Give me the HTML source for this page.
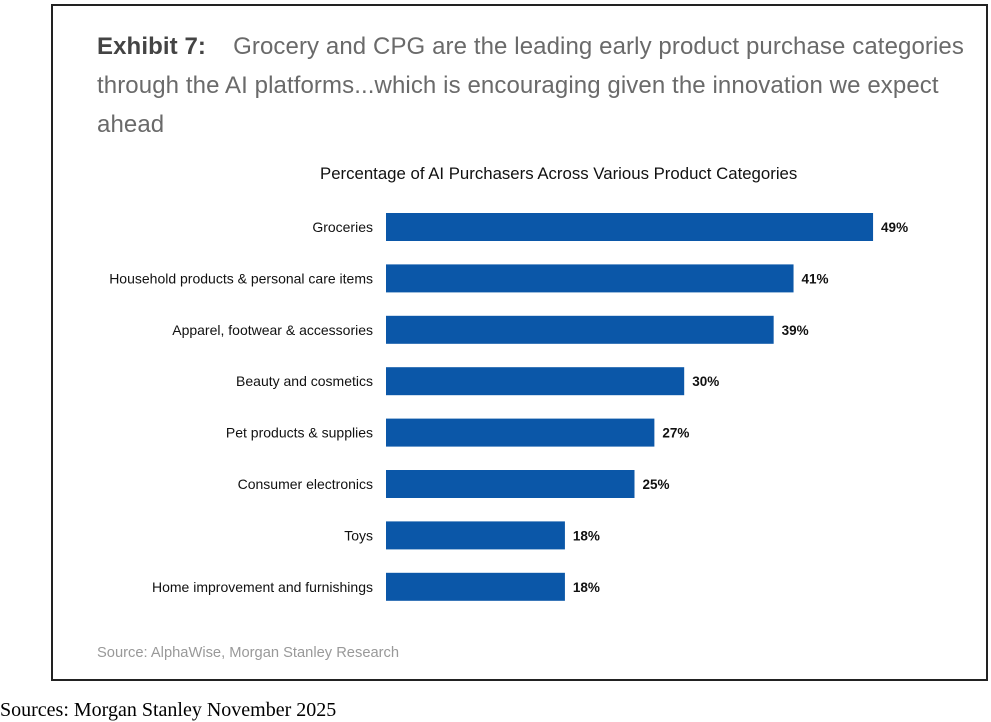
<!DOCTYPE html>
<html><head><meta charset="utf-8"><style>
body{margin:0;width:991px;height:719px;background:#fff;position:relative;overflow:hidden;font-family:"Liberation Sans",sans-serif}
.box{position:absolute;left:51px;top:4px;width:933px;height:673px;border:2px solid #222;}
.t{position:absolute;left:97px;font-size:24px;color:#6a6a6a;white-space:nowrap;letter-spacing:0.1px}
</style></head><body>
<div class="box"></div>
<div class="t" style="top:33px"><b style="color:#444">Exhibit 7:</b>&nbsp;&nbsp;&nbsp;&nbsp;Grocery and CPG are the leading early product purchase categories</div>
<div class="t" style="top:72px">through the AI platforms...which is encouraging given the innovation we expect</div>
<div class="t" style="top:111px">ahead</div>
<div style="position:absolute;left:320px;top:164px;font-size:16.8px;color:#111;white-space:nowrap">Percentage of AI Purchasers Across Various Product Categories</div>
<svg id="chart" width="991" height="719" style="position:absolute;left:0;top:0"></svg>
<div style="position:absolute;left:97px;top:645px;font-size:14.7px;color:#999;white-space:nowrap">Source: AlphaWise, Morgan Stanley Research</div>
<div style="position:absolute;left:0;top:699px;font-family:'Liberation Serif',serif;font-size:20px;color:#000;white-space:nowrap">Sources: Morgan Stanley November 2025</div>
<script>
const categories=["Groceries","Household products & personal care items","Apparel, footwear & accessories","Beauty and cosmetics","Pet products & supplies","Consumer electronics","Toys","Home improvement and furnishings"];
const values=[49,41,39,30,27,25,18,18];
const labels=["49%","41%","39%","30%","27%","25%","18%","18%"];
const svg=document.getElementById('chart');const NS='http://www.w3.org/2000/svg';
const x0=386,pxPer=9.94,y0=213,step=51.4,bh=28;
const xs=v=>x0+v*pxPer, ys=i=>y0+i*step;
categories.forEach((c,i)=>{
 const r=document.createElementNS(NS,'rect');
 r.setAttribute('x',x0);r.setAttribute('y',ys(i));r.setAttribute('width',xs(values[i])-x0);r.setAttribute('height',bh);r.setAttribute('fill','#0b57a8');
 
 
 svg.appendChild(r);
 const t=document.createElementNS(NS,'text');
 t.setAttribute('x',373);t.setAttribute('y',ys(i)+bh/2+5);t.setAttribute('text-anchor','end');t.setAttribute('font-size','14');t.setAttribute('fill','#111');t.textContent=c;
 
 
 svg.appendChild(t);
 const v=document.createElementNS(NS,'text');
 v.setAttribute('x',xs(values[i])+8);v.setAttribute('y',ys(i)+bh/2+5);v.setAttribute('font-size','13.5');v.setAttribute('font-weight','bold');v.setAttribute('fill','#111');v.textContent=labels[i];
 
 
 svg.appendChild(v);
});
</script>
</body></html>
